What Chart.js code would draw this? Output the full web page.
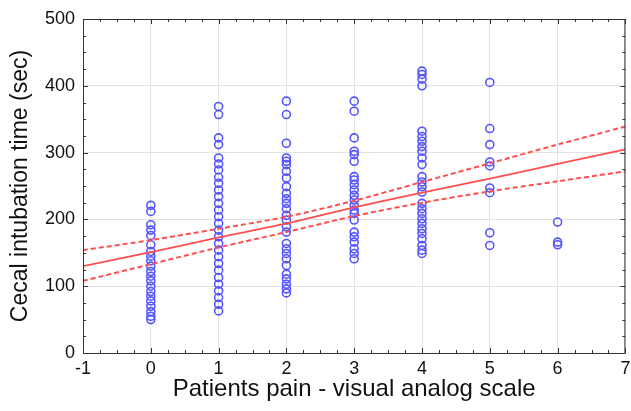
<!DOCTYPE html>
<html>
<head>
<meta charset="utf-8">
<script src="https://cdn.jsdelivr.net/npm/chart.js@4.4.1/dist/chart.umd.min.js"></script>
<style>
  html, body { margin: 0; padding: 0; background: #fff; }
  #wrap { width: 631px; height: 411px; }
</style>
</head>
<body>
<div id="wrap"><canvas id="painChart" width="631" height="411"></canvas></div>
<script>
// ==========================
// Data
// ==========================
const painLevels = [0, 1, 2, 3, 4, 5, 6];

const timesVas0 = [221, 212, 192, 184, 176, 162, 152, 145, 138, 130, 122, 115, 108, 100, 92, 85, 78, 70, 62, 55, 50];
const timesVas1 = [369, 357, 322, 312, 292, 283, 274, 263, 254, 244, 234, 224, 214, 204, 194, 184, 174, 164, 154, 144, 134, 124, 113, 103, 93, 83, 73, 63];
const timesVas2 = [377, 357, 314, 292, 287, 282, 272, 262, 249, 239, 231, 224, 216, 206, 199, 189, 181, 164, 156, 149, 141, 131, 118, 111, 103, 96, 90];
const timesVas3 = [377, 362, 322, 302, 297, 287, 264, 259, 252, 244, 236, 229, 221, 214, 209, 199, 181, 174, 166, 156, 149, 141];
const timesVas4 = [422, 417, 410, 400, 332, 324, 317, 309, 302, 292, 282, 264, 256, 249, 241, 224, 216, 209, 201, 194, 186, 179, 171, 161, 154, 149];
const timesVas5 = [405, 336, 312, 286, 280, 247, 240, 180, 161];
const timesVas6 = [196, 166, 162];
const timesByPain = [timesVas0, timesVas1, timesVas2, timesVas3, timesVas4, timesVas5, timesVas6];

// regression line and 95% confidence band, sampled at each VAS step
const fitX = [-1, 0, 1, 2, 3, 4, 5, 6, 7];
const fitY = [130, 151, 173, 194, 218, 240, 261, 283, 305];
const upperY = [154, 169, 186, 204, 228, 256, 284, 312, 339];
const lowerY = [108, 133, 158, 181, 205, 225, 242, 257, 272];

const xTicks = [-1, 0, 1, 2, 3, 4, 5, 6, 7];
const yTicks = [0, 100, 200, 300, 400, 500];

// ==========================
// Build point lists
// ==========================
const scatterPts = [];
painLevels.forEach((p, i) => {
    timesByPain[i].forEach(t => scatterPts.push({ x: p, y: t }));
});
const toPts = ys => fitX.map((x, i) => ({ x: x, y: ys[i] }));

const blue = "rgb(85,85,255)";
const red = "rgb(255,80,80)";

// frame + inward minor ticks like the original plot
const framePlugin = {
    id: "frame",
    afterDraw(chart) {
        const { ctx, chartArea: a, scales } = chart;
        ctx.save();
        ctx.strokeStyle = "#333";
        ctx.lineWidth = 1;
        ctx.strokeRect(a.left + 0.5, a.top + 0.5, a.right - a.left - 1, a.bottom - a.top);
        ctx.beginPath();
        for (let v = -1; v <= 7.001; v += 0.25) {
            const px = Math.round(scales.x.getPixelForValue(v)) + 0.5;
            const len = Math.abs(v - Math.round(v)) < 1e-6 ? 5 : 3;
            ctx.moveTo(px, a.bottom); ctx.lineTo(px, a.bottom - len);
            ctx.moveTo(px, a.top); ctx.lineTo(px, a.top + len);
        }
        for (let v = 0; v <= 500; v += 25) {
            const py = Math.round(scales.y.getPixelForValue(v)) + 0.5;
            const len = v % 100 === 0 ? 5 : 3;
            ctx.moveTo(a.left, py); ctx.lineTo(a.left + len, py);
            ctx.moveTo(a.right, py); ctx.lineTo(a.right - len, py);
        }
        ctx.stroke();
        ctx.restore();
    }
};

Chart.defaults.font.family = "'Liberation Sans', Arial, sans-serif";
Chart.defaults.color = "#111";

const ctx = document.getElementById("painChart").getContext("2d");
new Chart(ctx, {
    type: "scatter",
    data: {
        datasets: [
            {
                label: "patients",
                data: scatterPts,
                pointStyle: "circle",
                pointRadius: 4,
                pointBorderWidth: 1.6,
                borderColor: blue,
                backgroundColor: "rgba(0,0,0,0)",
                order: 2
            },
            {
                type: "line",
                label: "fit",
                data: toPts(fitY),
                borderColor: red,
                borderWidth: 1.8,
                pointRadius: 0,
                tension: 0.3,
                order: 1
            },
            {
                type: "line",
                label: "upper 95%",
                data: toPts(upperY),
                borderColor: red,
                borderWidth: 2,
                borderDash: [5, 3],
                pointRadius: 0,
                tension: 0.3,
                order: 1
            },
            {
                type: "line",
                label: "lower 95%",
                data: toPts(lowerY),
                borderColor: red,
                borderWidth: 2,
                borderDash: [5, 3],
                pointRadius: 0,
                tension: 0.3,
                order: 1
            }
        ]
    },
    options: {
        responsive: false,
        animation: false,
        layout: { padding: { top: 19, right: 5, left: 0, bottom: 0 } },
        plugins: {
            legend: { display: false },
            tooltip: { enabled: false }
        },
        scales: {
            x: {
                type: "linear",
                min: -1,
                max: 7,
                afterBuildTicks: s => { s.ticks = xTicks.map(v => ({ value: v })); },
                afterFit: s => { s.height = 58; s.paddingLeft = 0; s.paddingRight = 0; },
                ticks: { font: { size: 18 }, color: "#111", padding: 5 },
                grid: { color: "#e2e2e2", drawTicks: false },
                border: { display: false },
                title: {
                    display: true,
                    text: "Patients pain - visual analog scale",
                    font: { size: 24 },
                    color: "#111",
                    padding: { top: 0, bottom: 7 }
                }
            },
            y: {
                min: 0,
                max: 500,
                afterBuildTicks: s => { s.ticks = yTicks.map(v => ({ value: v })); },
                afterFit: s => { s.width = 83; s.paddingTop = 0; s.paddingBottom = 0; },
                ticks: { font: { size: 18 }, color: "#111", padding: 8 },
                grid: { color: "#e2e2e2", drawTicks: false },
                border: { display: false },
                title: {
                    display: true,
                    text: "Cecal intubation time (sec)",
                    font: { size: 23 },
                    color: "#111",
                    padding: { top: 7, bottom: 0 }
                }
            }
        }
    },
    plugins: [framePlugin]
});
</script>
</body>
</html>
